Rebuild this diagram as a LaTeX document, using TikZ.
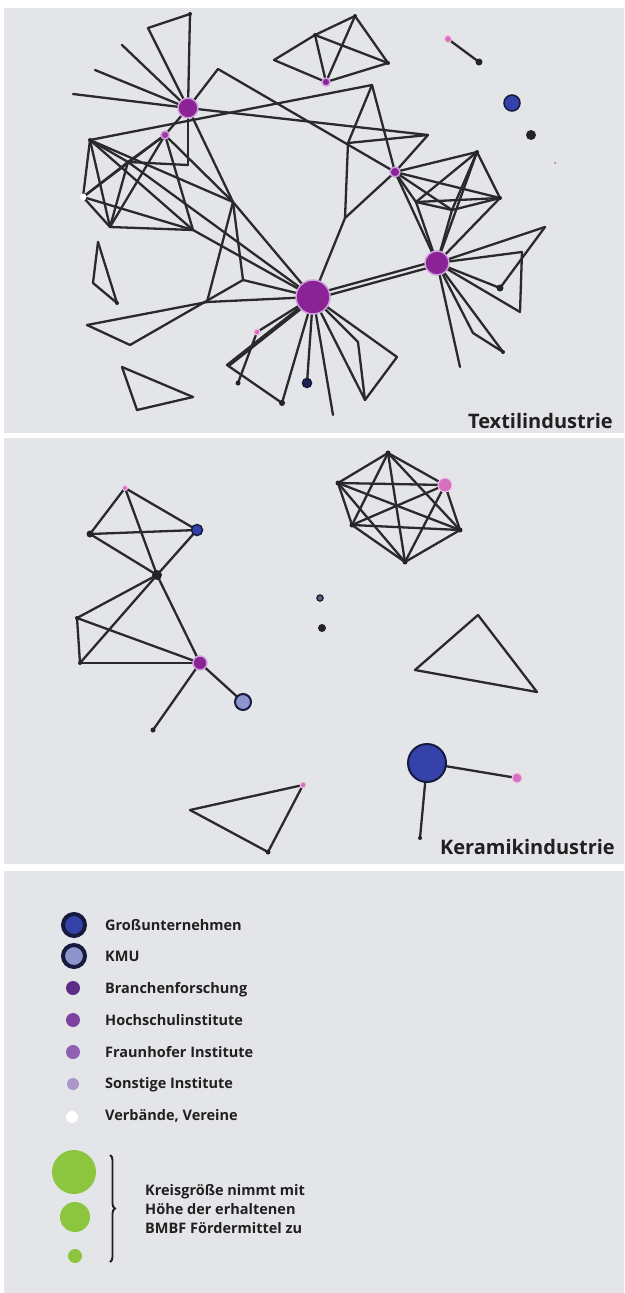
\documentclass[tikz,border=0pt]{standalone}
\usepackage{fontspec}
\setmainfont{Open Sans}
\usetikzlibrary{decorations.pathreplacing}
\definecolor{bggray}{RGB}{228,229,232}
\definecolor{edgecol}{RGB}{42,42,44}
\definecolor{purpc}{RGB}{137,35,150}
\definecolor{purphalo}{RGB}{208,160,220}
\definecolor{pinkc}{RGB}{214,112,190}
\definecolor{pinkhalo}{RGB}{240,195,228}
\definecolor{gublue}{RGB}{52,66,170}
\definecolor{navyc}{RGB}{22,26,62}
\definecolor{kmuc}{RGB}{140,150,205}
\definecolor{darkc}{RGB}{35,35,45}
\definecolor{branchc}{RGB}{92,44,134}
\definecolor{hochc}{RGB}{125,66,160}
\definecolor{fraunc}{RGB}{145,95,180}
\definecolor{sonstc}{RGB}{170,150,200}
\definecolor{greenc}{RGB}{140,198,63}
\definecolor{textc}{RGB}{35,31,32}
\pgfdeclarelayer{bg}
\pgfdeclarelayer{edges}
\pgfsetlayers{bg,edges,main}
\begin{document}
\begin{tikzpicture}[x=1pt,y=-1pt,
  edge/.style={draw=edgecol,line width=2.3pt,line cap=round},
  nd/.style={circle,inner sep=0pt,minimum size=#1},
  pnode/.style={nd=#1,fill=purpc,draw=purphalo,line width=1.5pt},
  pknode/.style={nd=#1,fill=pinkc,draw=pinkhalo,line width=1pt},
  dknode/.style={nd=#1,fill=darkc},
  blnode/.style={nd=#1,fill=gublue,draw=navyc,line width=1.5pt},
  kmunode/.style={nd=#1,fill=kmuc,draw=navyc,line width=2pt},
  panel/.style={fill=bggray,draw=none},
  title/.style={font=\fontsize{20}{24}\selectfont\bfseries,text=textc,inner sep=0pt},
  lgd/.style={font=\fontsize{14.5}{18}\selectfont\bfseries,text=textc,inner sep=0pt,anchor=base west}]
\useasboundingbox (0,0) rectangle (624,1293);
\begin{pgfonlayer}{bg}
\fill[white] (0,0) rectangle (624,1293);
\fill[panel] (4,8) rectangle (624,433);
\fill[panel] (4,438) rectangle (624,864);
\fill[panel] (4,871) rectangle (624,1293);
\end{pgfonlayer}

% ---------------- Textilindustrie ----------------
\node[pnode=20pt] (A) at (188,108) {};
\node[dknode=4pt] (T1) at (190,14) {};
\coordinate (T2) at (148,28);
\coordinate (L1) at (122,45);
\coordinate (L2) at (95,70);
\coordinate (L3) at (73,94);
\coordinate (a7) at (218,69);
\node[pnode=8pt,fill=purpc!70!pinkc] (E) at (165,135) {};
\node[dknode=4pt] (a9) at (90,140) {};
\coordinate (a10) at (128,162);
\coordinate (a11) at (188,165);
\node[nd=7pt,fill=white] (a12) at (83,197) {};
\coordinate (a13) at (110,227);
\coordinate (a14) at (193,230);
\coordinate (a15) at (233,202);
\coordinate (a16) at (243,280);
\coordinate (a17) at (207,302);
\coordinate (t1) at (98,242);
\coordinate (t2) at (93,283);
\node[dknode=4pt] (t3) at (117,303) {};
\coordinate (v1) at (87,325);
\coordinate (v2) at (130,345);
\coordinate (w1) at (122,367);
\coordinate (w2) at (193,397);
\coordinate (w3) at (137,410);
\coordinate (b1) at (274,60);
\node[dknode=4pt] (b2) at (315,35) {};
\node[dknode=4pt] (b3) at (355,16) {};
\node[dknode=4pt] (b4) at (388,63) {};
\node[pnode=8pt] (b5) at (326,82) {};
\coordinate (c1) at (372,85);
\coordinate (c2) at (348,143);
\coordinate (c3) at (345,218);
\coordinate (c4) at (428,135);
\node[pnode=10pt] (B2) at (395,172) {};
\node[dknode=4pt] (r1) at (477,152) {};
\node[dknode=4pt] (r2) at (500,198) {};
\coordinate (r3) at (416,202);
\coordinate (r4) at (452,210);
\node[pnode=24pt] (C) at (437,263) {};
\coordinate (r5) at (545,227);
\coordinate (r6) at (522,252);
\coordinate (r7) at (520,312);
\node[dknode=7pt] (r8) at (500,288) {};
\coordinate (r9) at (460,367);
\node[dknode=4pt] (r10) at (503,352) {};
\coordinate (r11) at (473,333);
\node[pnode=34pt] (D) at (313,297) {};
\node[pknode=6pt] (d1) at (257,332) {};
\coordinate (d2) at (227,365);
\node[dknode=5pt] (d3) at (238,383) {};
\node[dknode=6pt] (d4) at (282,403) {};
\node[blnode=9pt,fill=navyc!80!gublue] (d5) at (307,383) {};
\coordinate (d6) at (358,342);
\coordinate (d7) at (397,357);
\coordinate (d8) at (365,400);
\coordinate (d9) at (333,415);
\node[pknode=7pt] (p1) at (448,39) {};
\node[dknode=7pt] (p2) at (479,62) {};
\node[blnode=16pt] (q1) at (512,103) {};
\node[dknode=10pt] (q2) at (531,135) {};
\node[dknode=2pt,fill=gray] (q3) at (555,163) {};

\begin{pgfonlayer}{edges}
\foreach \u/\v in {A/T1,T1/T2,T2/A,A/L1,A/L2,A/L3,A/a7,a7/B2,A/E,A/a11,A/a15,A/c4,
  a9/c1,a9/a12,a9/a13,a9/a10,a9/a14,a9/a15,a12/a10,a12/E,a12/a13,a12/a14,
  a10/a13,a10/a11,a10/E,a10/D,a13/a14,a13/E,a14/D,a15/D,a15/a16,a15/a17,
  a16/D,a17/D,E/a14,E/a15,
  t1/t2,t2/t3,t3/t1,v1/a17,v1/v2,v2/a16,w1/w2,w2/w3,w3/w1,
  b1/b2,b1/b5,b2/b3,b2/b4,b2/b5,b3/b4,b3/b5,b4/b5,
  c1/c2,c2/c3,c1/B2,c2/c4,c4/B2,c3/D,B2/c3,
  B2/r1,B2/r2,B2/r3,B2/r4,B2/C,r1/r2,r1/r3,r1/r4,r1/C,r2/r3,r2/r4,r2/C,r3/r4,r3/C,r4/C,
  C/r5,r5/r8,C/r6,r6/r7,C/r7,C/r8,C/r9,C/r10,C/r11,r11/r10,
  D/d1,D/d2,d2/d4,D/d4,d1/d3,D/d5,D/d6,d6/d8,D/d7,d7/d8,D/d9,D/d8,
  p1/p2}
  \draw[edge] (\u.center) -- (\v.center);
\draw[edge] ([yshift=2.4pt]C.center) -- ([yshift=2.4pt]D.center);
\draw[edge] ([yshift=-2.4pt]C.center) -- ([yshift=-2.4pt]D.center);
\draw[edge] ([xshift=3pt]D.center) -- ([xshift=3pt]d2.center);
\end{pgfonlayer}
\node[title,anchor=base east] (tTextil) at (613,428) {Textilindustrie};

% ---------------- Keramikindustrie ----------------
\node[pknode=5pt] (k1) at (125,488) {};
\node[dknode=7pt] (k2) at (90,534) {};
\node[blnode=11pt] (k3) at (197,530) {};
\node[dknode=10pt] (k4) at (157,575) {};
\node[dknode=4pt] (k5) at (77,618) {};
\node[dknode=4pt] (k6) at (80,663) {};
\node[pnode=14pt] (k7) at (200,663) {};
\node[kmunode=16pt] (k8) at (243,702) {};
\node[dknode=5pt] (k9) at (153,730) {};
\coordinate (m1) at (190,810);
\node[pknode=6pt] (m2) at (303,785) {};
\node[dknode=5pt] (m3) at (268,852) {};
\node[dknode=5pt] (h1) at (388,453) {};
\node[dknode=5pt] (h2) at (338,483) {};
\node[pknode=14pt] (h3) at (445,485) {};
\node[dknode=5pt] (h4) at (352,525) {};
\node[dknode=5pt] (h5) at (460,530) {};
\node[dknode=5pt] (h6) at (405,562) {};
\node[nd=6pt,fill=kmuc!60!darkc,draw=darkc,line width=1.5pt] (s1) at (320,598) {};
\node[dknode=8pt] (s2) at (322,628) {};
\coordinate (n1) at (478,615);
\coordinate (n2) at (415,670);
\coordinate (n3) at (537,692);
\node[blnode=38pt,line width=2pt] (G) at (427,763) {};
\node[pknode=10pt] (g2) at (517,778) {};
\node[dknode=4pt] (g3) at (420,838) {};
\begin{pgfonlayer}{edges}
\foreach \u/\v in {k1/k2,k1/k3,k1/k4,k2/k3,k2/k4,k3/k4,k4/k5,k4/k6,k4/k7,k5/k6,k5/k7,k6/k7,k7/k8,k7/k9,
  m1/m2,m2/m3,m3/m1,
  h1/h2,h1/h3,h1/h4,h1/h5,h1/h6,h2/h3,h2/h4,h2/h5,h2/h6,h3/h4,h3/h5,h3/h6,h4/h5,h4/h6,h5/h6,
  n1/n2,n2/n3,n3/n1,G/g2,G/g3}
  \draw[edge] (\u.center) -- (\v.center);
\end{pgfonlayer}
\node[title,anchor=base east] (tKeram) at (615,854) {Keramikindustrie};

% ---------------- Legend ----------------
\node[nd=22pt,fill=gublue,draw=navyc,line width=4pt] (iG) at (74,925) {};
\node[nd=22pt,fill=kmuc,draw=navyc,line width=4pt] (iK) at (74,956) {};
\node[nd=14pt,fill=branchc] (iB) at (73,988) {};
\node[nd=14pt,fill=hochc] (iH) at (73,1020) {};
\node[nd=14pt,fill=fraunc] (iF) at (73,1052) {};
\node[nd=12pt,fill=sonstc] (iS) at (73,1084) {};
\node[nd=12pt,fill=white] (iV) at (72,1117) {};
\node[lgd] (lG) at (105,930) {Großunternehmen};
\node[lgd] (lK) at (105,961) {KMU};
\node[lgd] (lB) at (105,993) {Branchenforschung};
\node[lgd] (lH) at (105,1025) {Hochschulinstitute};
\node[lgd] (lF) at (105,1057) {Fraunhofer Institute};
\node[lgd] (lS) at (105,1088) {Sonstige Institute};
\node[lgd] (lV) at (105,1120) {Verbände, Vereine};
\node[nd=44pt,fill=greenc] (gr1) at (74,1172) {};
\node[nd=30pt,fill=greenc] (gr2) at (75,1217) {};
\node[nd=14pt,fill=greenc] (gr3) at (75,1256) {};
\coordinate (brT) at (110,1155);
\coordinate (brB) at (110,1262);
\draw[textc,line width=1.9pt,decorate,decoration={brace,amplitude=5pt}] (brT) -- (brB);
\node[lgd] (lk1) at (145,1195) {Kreisgröße nimmt mit};
\node[lgd] (lk2) at (145,1214) {Höhe der erhaltenen};
\node[lgd] (lk3) at (145,1233) {BMBF Fördermittel zu};
\end{tikzpicture}
\end{document}
